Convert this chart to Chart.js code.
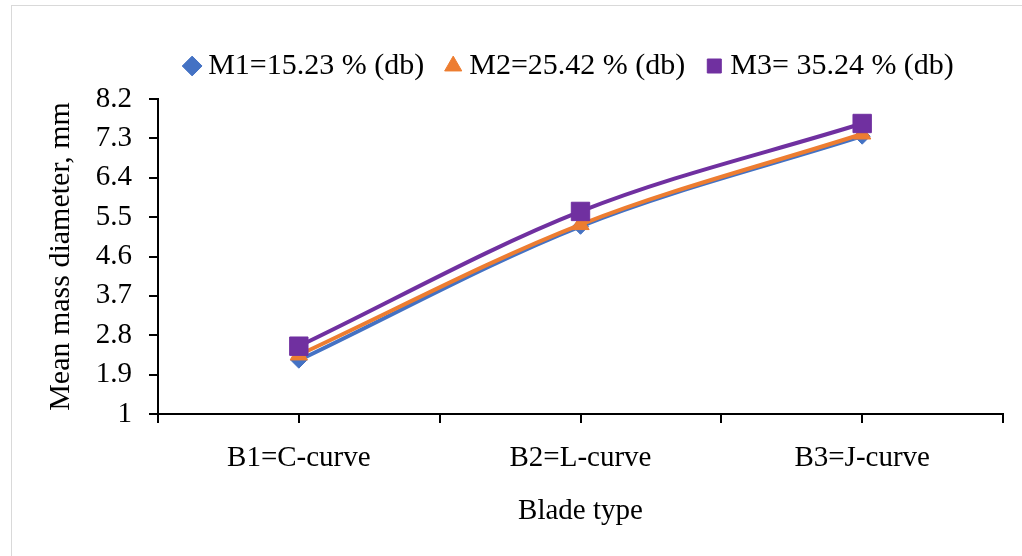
<!DOCTYPE html>
<html><head><meta charset="utf-8">
<script src="https://cdn.jsdelivr.net/npm/chart.js@4.4.0/dist/chart.umd.min.js"></script>
<style>
html,body{margin:0;padding:0;background:#fff;overflow:hidden;}
#wrap{position:relative;width:1022px;height:556px;overflow:hidden;}
#frame{position:absolute;left:11px;top:5px;width:1200px;height:700px;border-left:1px solid #d9d9d9;border-top:1px solid #d9d9d9;}
canvas{position:absolute;left:0;top:0;}
</style></head><body>
<div id="wrap"><div id="frame"></div><canvas id="c" width="1022" height="556"></canvas></div>
<script>
const categories = ['B1=C-curve', 'B2=L-curve', 'B3=J-curve'];
const seriesNames = ['M1=15.23 % (db)', 'M2=25.42 % (db)', 'M3= 35.24 % (db)'];
const m1Values = [2.23, 5.29, 7.35];
const m2Values = [2.35, 5.33, 7.40];
const m3Values = [2.55, 5.63, 7.64];
const yTicks = [1, 1.9, 2.8, 3.7, 4.6, 5.5, 6.4, 7.3, 8.2];
const xTicks = [0, 0.5, 1, 1.5, 2, 2.5, 3];

const FAMILY = '"Liberation Serif", "Times New Roman", serif';
const FONT = {family: FAMILY, size: 29};
const TFONT = {family: FAMILY, size: 30};
const LFONT = {family: FAMILY, size: 30};

const toPts = vals => vals.map((v, i) => ({x: i + 0.5, y: v}));

function ds(label, vals, color, style, radius, order) {
  return {
    label, data: toPts(vals), borderColor: color, backgroundColor: color,
    pointBackgroundColor: color, pointBorderColor: color, pointBorderWidth: 1,
    pointStyle: style, pointRadius: radius, borderWidth: 4,
    cubicInterpolationMode: 'monotone',
    fill: false, order
  };
}

const legendShift = {
  id: 'legendShift',
  afterLayout(chart) {
    const lg = chart.legend;
    if (!lg) return;
    lg.left += 71; lg.right += 71;
    lg.top -= 8; lg.bottom -= 8;
  }
};

new Chart(document.getElementById('c'), {
  type: 'line',
  data: {
    datasets: [
      ds(seriesNames[0], m1Values, '#4472C4', 'rectRot', 8, 3),
      ds(seriesNames[1], m2Values, '#ED7D31', 'triangle', 10, 2),
      ds(seriesNames[2], m3Values, '#7030A0', 'rect', 13, 1)
    ]
  },
  options: {
    responsive: false,
    animation: false,
    layout: {padding: {top: 31, right: 19, left: 0, bottom: 0}},
    plugins: {
      tooltip: {enabled: false},
      legend: {
        position: 'top',
        labels: {
          usePointStyle: true, boxWidth: 2, boxHeight: 14, padding: 28,
          font: LFONT, color: '#000',
          sort: (a, b) => a.datasetIndex - b.datasetIndex
        }
      }
    },
    scales: {
      x: {
        type: 'linear', position: 'bottom', min: 0, max: 3,
        afterBuildTicks: s => { s.ticks = xTicks.map(v => ({value: v})); },
        ticks: {
          autoSkip: false, maxRotation: 0, minRotation: 0, padding: 18,
          font: FONT, color: '#000',
          callback: v => { const i = v - 0.5; return Number.isInteger(i) ? categories[i] : ''; }
        },
        grid: {drawOnChartArea: false, drawTicks: true, tickLength: 9, color: '#000', lineWidth: 2},
        border: {display: true, color: '#000', width: 2},
        title: {display: true, text: 'Blade type', font: FONT, color: '#000', padding: {top: 0, bottom: 27.6}},
        afterFit: s => { s.height = 142; }
      },
      y: {
        min: 1, max: 8.2,
        afterBuildTicks: s => { s.ticks = yTicks.map(v => ({value: v})); },
        ticks: {padding: 17, font: FONT, color: '#000', callback: v => String(v)},
        grid: {drawOnChartArea: false, drawTicks: true, tickLength: 9, color: '#000', lineWidth: 2},
        border: {display: true, color: '#000', width: 2},
        title: {display: true, text: 'Mean mass diameter, mm', font: TFONT, color: '#000', padding: {top: 43, bottom: 0}},
        afterFit: s => { s.width = 158; }
      }
    }
  },
  plugins: [legendShift]
});
</script>
</body></html>
